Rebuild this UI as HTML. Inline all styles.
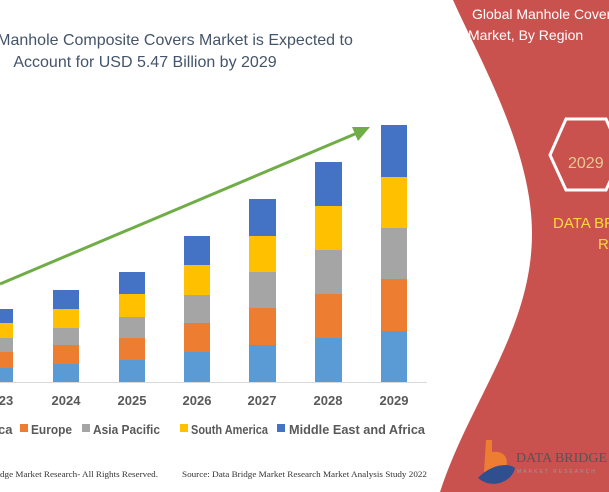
<!DOCTYPE html>
<html><head><style>
body{margin:0;width:609px;height:492px;overflow:hidden;background:#fff;font-family:"Liberation Sans",sans-serif;}
</style></head><body>
<svg width="609" height="492" xmlns="http://www.w3.org/2000/svg" style="position:absolute;left:0;top:0">
<path d="M453,0 L609,0 L609,492 L440,492 C470,400 532,330 532,233 C532,150 480,60 453,0 Z" fill="#c9524f"/>
<g font-family="Liberation Sans, sans-serif" fill="#44546a" font-size="16" text-anchor="middle">
<text x="175" y="45">Manhole Composite Covers Market is Expected to</text>
<text x="145" y="67">Account for USD 5.47 Billion by 2029</text>
</g>
<g font-size="14" fill="#fff">
<text x="472" y="19">Global Manhole Covers</text>
<text x="468" y="40">Market, By Region</text>
</g>
<polygon points="550,155 566,119 606,119 622,155 606,190 566,190" fill="none" stroke="#fff" stroke-width="3"/>
<text x="568" y="168" font-size="16" fill="#e8c890">2029</text>
<text x="553" y="228" font-size="15" fill="#ffd93c">DATA BRIDGE</text>
<text x="598" y="249" font-size="15" fill="#ffd93c">R</text>
<line x1="0" y1="382.5" x2="427" y2="382.5" stroke="#d9d9d9"/>
<g id="bars"></g>
<line x1="0" y1="284" x2="362" y2="131" stroke="#70ad47" stroke-width="3"/>
<polygon points="370,127 352,127 358,141" fill="#70ad47"/>
<g font-size="13" font-weight="bold" fill="#595959" text-anchor="middle">
<text x="6" y="405">23</text><text x="66" y="405">2024</text><text x="132" y="405">2025</text><text x="197" y="405">2026</text><text x="262" y="405">2027</text><text x="328" y="405">2028</text><text x="394" y="405">2029</text>
</g>
<g font-size="13" font-weight="bold" fill="#595959">
<text x="-2" y="434">ca</text>
<rect x="20" y="424" width="8" height="8" fill="#ed7d31"/><text x="31" y="434" textLength="41" lengthAdjust="spacingAndGlyphs">Europe</text>
<rect x="82" y="424" width="8" height="8" fill="#a5a5a5"/><text x="93" y="434" textLength="67" lengthAdjust="spacingAndGlyphs">Asia Pacific</text>
<rect x="180" y="424" width="8" height="8" fill="#ffc000"/><text x="191" y="434" textLength="77" lengthAdjust="spacingAndGlyphs">South America</text>
<rect x="277" y="424" width="8" height="8" fill="#4472c4"/><text x="289" y="434" textLength="136" lengthAdjust="spacingAndGlyphs">Middle East and Africa</text>
</g>
<g font-family="Liberation Serif, serif" font-size="8.5" fill="#333">
<text x="0" y="477" textLength="158" lengthAdjust="spacingAndGlyphs">dge Market Research- All Rights Reserved.</text>
<text x="182" y="477" textLength="245" lengthAdjust="spacingAndGlyphs">Source: Data Bridge Market Research Market Analysis Study 2022</text>
</g>
<path d="M486,440 L492,440 L492,452 C505,450 510,460 505,470 C500,480 488,480 484,472 Z" fill="#ed7d31"/>
<path d="M478,478 C490,465 508,462 515,468 C512,482 492,490 478,478 Z" fill="#2f4f8f"/>
<text x="516" y="462" font-family="Liberation Serif, serif" font-size="14" fill="#555">DATA BRIDGE</text>
<text x="517" y="473" font-size="5" fill="#999" letter-spacing="2">MARKET RESEARCH</text>
</svg>
<script>
var data=[[0,13,309,323,338,352,368],[53,79,290,309,328,345,364],[119,145,272,294,317,338,360],[184,210,236,265,295,323,352],[249,276,199,236,272,308,345],[315,342,162,206,250,294,338],[381,407,125,177,228,279,331]];
var cols=["#4472c4","#ffc000","#a5a5a5","#ed7d31","#5b9bd5"];
var g=document.getElementById("bars"),s="";
data.forEach(function(d){var ys=d.slice(2).concat([382]);for(var i=0;i<5;i++){s+='<rect x="'+d[0]+'" y="'+ys[i]+'" width="'+(d[1]-d[0])+'" height="'+(ys[i+1]-ys[i])+'" fill="'+cols[i]+'"/>';}});
g.innerHTML=s;
</script>
</body></html>
